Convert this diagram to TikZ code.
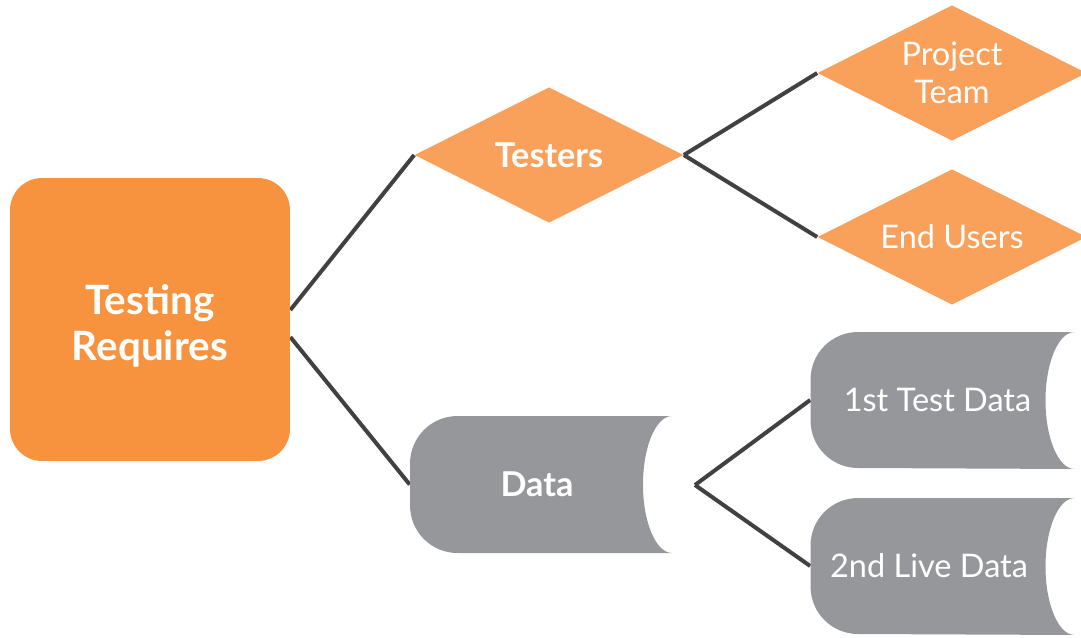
\documentclass[tikz,border=0pt]{standalone}
\usepackage{fontspec}
\setmainfont{Lato}
\usepackage{tikz}
\usetikzlibrary{shapes.geometric,backgrounds}
\definecolor{mainorange}{HTML}{F7923F}
\definecolor{diaorange}{HTML}{F9A05A}
\definecolor{datagray}{HTML}{96979A}
\definecolor{linegray}{HTML}{414042}

\begin{document}
\begin{tikzpicture}[x=0.02cm,y=-0.02cm]
	\tikzstyle{mainbox}=[fill=mainorange,rounded corners=0.64cm,minimum width=5.6cm,minimum height=5.66cm,text=white,align=center,font=\bfseries\fontsize{23}{27}\selectfont]
	\tikzstyle{dia}=[diamond,aspect=2,fill=diaorange,inner sep=0pt,minimum width=5.38cm,minimum height=2.71cm,text=white,align=center]
	\tikzstyle{datanode}=[inner sep=0pt,minimum width=5.28cm,minimum height=2.72cm,text=white,align=center,
		path picture={
			\fill[datagray] (path picture bounding box.north east)
				arc[start angle=90,end angle=270,x radius=0.58cm,y radius=1.37cm]
				-- ([xshift=0.95cm]path picture bounding box.south west)
				arc[start angle=270,end angle=180,radius=0.95cm]
				-- ([yshift=-0.95cm]path picture bounding box.north west)
				arc[start angle=180,end angle=90,radius=0.95cm]
				-- cycle;
		}]
	\tikzstyle{link}=[draw=linegray,line width=0.08cm]
	\useasboundingbox (0,0) rectangle (1081,637);
	\node[mainbox] (main) at (150,319.5) {\raisebox{-0.17cm}[\height][\depth]{\begin{tabular}{@{}c@{}}Testing\\[-0.03cm]Requires\end{tabular}}};
	\node[dia,font=\bfseries\fontsize{19.5}{23}\selectfont] (testers) at (549,155) {Testers};
	\node[dia,font=\fontsize{18.5}{21.5}\selectfont] (project) at (952,73) {Project\\Team};
	\node[dia,font=\fontsize{18.5}{21.5}\selectfont] (users) at (952,237) {End Users};
	\node[datanode,minimum width=5.24cm,minimum height=2.74cm,font=\bfseries\fontsize{19.5}{23}\selectfont] (data) at (541,484.5) {Data\hspace{0.16cm}};
	\node[datanode,font=\fontsize{18.5}{21.5}\selectfont] (test1) at (942.5,400) {1st Test Data\hspace{0.2cm}};
	\node[datanode,font=\fontsize{18.5}{21.5}\selectfont] (live2) at (942.5,566) {2nd Live Data\hspace{0.54cm}};
	\coordinate (fork) at (695,485);
	\begin{scope}[on background layer]
		\path[link] ([yshift=0.19cm]main.east) -- (testers.west);
		\path[link] ([yshift=-0.35cm]main.east) -- (data.west);
		\path[link] (testers.east) -- (project.west);
		\path[link] (testers.east) -- (users.west);
		\path[link] (fork) -- (test1.west);
		\path[link] (fork) -- (live2.west);
	\end{scope}
\end{tikzpicture}
\end{document}
